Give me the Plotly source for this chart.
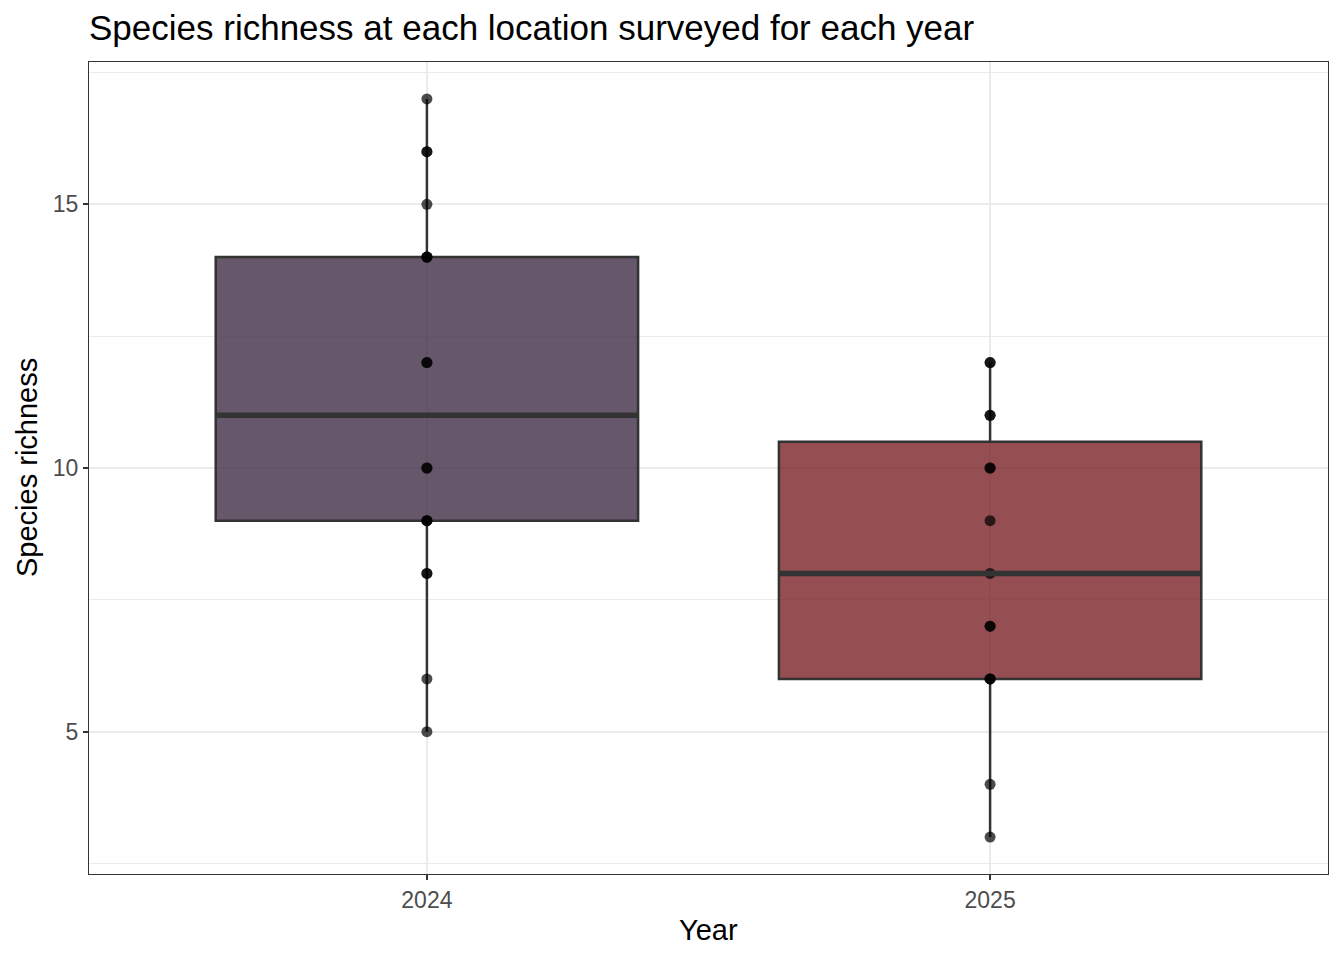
import numpy as np
import plotly.graph_objects as go

# ---- data ----
years = ["2024", "2025"]
richness_2024 = [5, 6, 8, 8, 9, 9, 9, 10, 10, 12, 12, 14, 14, 14, 15, 16, 16, 17]
richness_2025 = [3, 4, 6, 6, 6, 7, 7, 8, 9, 10, 10, 11, 11, 12, 12]
fill_colors = ["rgba(64,45,70,0.8)", "rgba(122,34,39,0.8)"]

series = [richness_2024, richness_2025]

W, H = 1344, 960
L, R, T, B = 89, 16, 62, 86
pw, ph = W - L - R, H - T - B

FONT = "Liberation Sans, Arial, Helvetica, sans-serif"
BOX_W = 0.75

fig = go.Figure()
shapes = []
for i, (yr, vals, fc) in enumerate(zip(years, series, fill_colors)):
    v = np.array(vals, dtype=float)
    q1, med, q3 = np.percentile(v, [25, 50, 75])
    iqr = q3 - q1
    lo = v[v >= q1 - 1.5 * iqr].min()
    hi = v[v <= q3 + 1.5 * iqr].max()
    fig.add_trace(go.Box(
        x=[yr], q1=[q1], median=[med], q3=[q3], lowerfence=[lo], upperfence=[hi],
        fillcolor=fc, line=dict(color="#333333", width=2.5), whiskerwidth=0,
        width=BOX_W, boxpoints=False, showlegend=False, hoverinfo="skip",
    ))
    shapes.append(dict(type="line", xref="x", yref="y", x0=i - BOX_W / 2, x1=i + BOX_W / 2,
                       y0=med, y1=med, line=dict(color="#333333", width=5.5), layer="above"))

# points
for yr, vals in zip(years, series):
    fig.add_trace(go.Scatter(
        x=[yr] * len(vals), y=vals, mode="markers",
        marker=dict(color="black", size=11, opacity=0.7, line=dict(width=0)),
        showlegend=False, hoverinfo="skip",
    ))

fig.update_layout(
    width=W, height=H,
    margin=dict(l=L, r=R, t=T, b=B),
    paper_bgcolor="white", plot_bgcolor="white",
    font=dict(family=FONT),
    title=dict(text="Species richness at each location surveyed for each year",
               x=0, xref="paper", xanchor="left",
               y=1 - 28 / H, yref="container", yanchor="middle",
               font=dict(size=35, color="black", family=FONT)),
    shapes=shapes,
    annotations=[
        dict(text="Year", xref="paper", yref="paper", x=0.5, y=-(930 - (T + ph)) / ph,
             xanchor="center", yanchor="middle", showarrow=False,
             font=dict(size=29, color="black", family=FONT)),
        dict(text="Species richness", xref="paper", yref="paper", x=(27 - L) / pw, y=0.5,
             xanchor="center", yanchor="middle", textangle=-90, showarrow=False,
             font=dict(size=29, color="black", family=FONT)),
    ],
)
fig.update_xaxes(
    type="category", categoryorder="array", categoryarray=years,
    range=[-0.6, 1.6],
    showgrid=True, gridcolor="#EBEBEB", gridwidth=2,
    showline=True, mirror=True, linecolor="#333333", linewidth=1.2,
    ticks="outside", ticklen=5, tickwidth=2, tickcolor="#333333",
    tickfont=dict(size=23, color="#4D4D4D", family=FONT),
    zeroline=False,
)
fig.update_yaxes(
    range=[2.3, 17.7], tickvals=[5, 10, 15], ticktext=["5", "10", "15"],
    showgrid=True, gridcolor="#EBEBEB", gridwidth=2,
    minor=dict(tickvals=[2.5, 7.5, 12.5, 17.5], showgrid=True, gridcolor="#EBEBEB", gridwidth=1, ticks=""),
    showline=True, mirror=True, linecolor="#333333", linewidth=1.2,
    ticks="outside", ticklen=5, tickwidth=2, tickcolor="#333333",
    tickfont=dict(size=23, color="#4D4D4D", family=FONT),
    zeroline=False,
)

fig.write_html("out.html", config={"displayModeBar": False},
               post_script="document.body.style.margin='0';document.body.style.overflow='hidden';")
